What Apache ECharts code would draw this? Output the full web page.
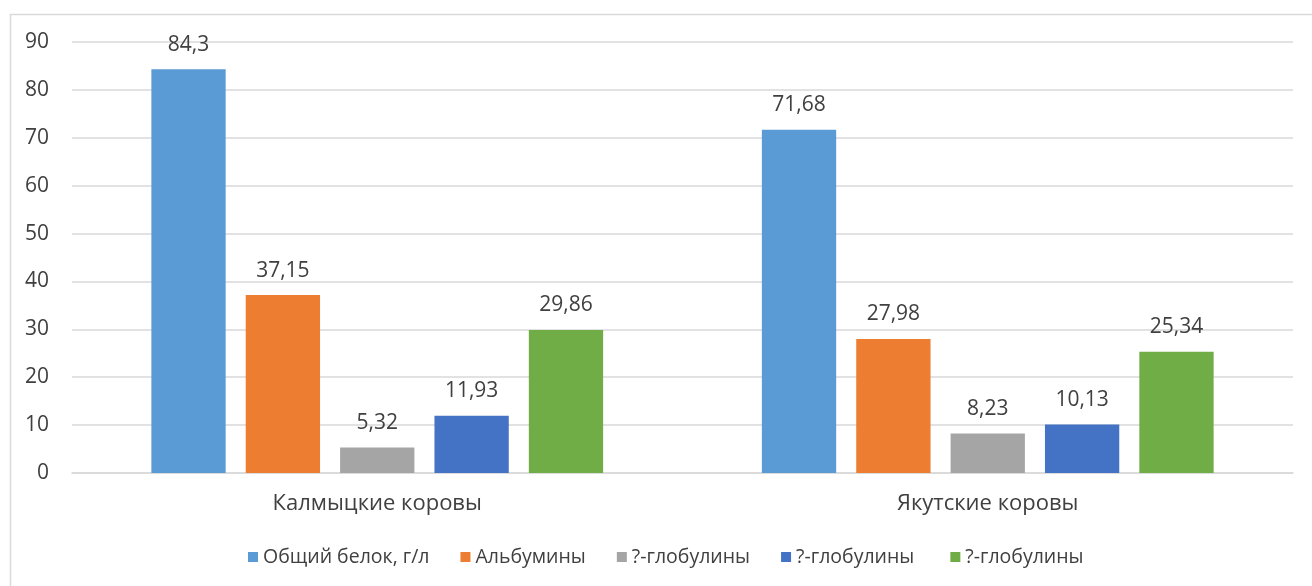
<!DOCTYPE html>
<html>
<head>
<meta charset="utf-8">
<script src="https://cdn.jsdelivr.net/npm/echarts@6/dist/echarts.min.js"></script>
<style>
  html, body { margin: 0; padding: 0; background: #fff; }
  #chart { width: 1312px; height: 586px; }
</style>
</head>
<body>
<div id="chart"></div>
<script>
// Categories and series values
const categories = ['Калмыцкие коровы', 'Якутские коровы'];
const seriesNames = ['Общий белок, г/л', 'Альбумины', '?-глобулины', '?-глобулины ', '?-глобулины  '];
const totalProtein = [84.3, 71.68];
const albumins = [37.15, 27.98];
const globulinsA = [5.32, 8.23];
const globulinsB = [11.93, 10.13];
const globulinsC = [29.86, 25.34];
const yTicks = { min: 0, max: 90, interval: 10 };

const colors = ['#5B9BD5', '#ED7D31', '#A5A5A5', '#4472C4', '#70AD47'];
const values = [totalProtein, albumins, globulinsA, globulinsB, globulinsC];
const font = 'Open Sans';

const chart = echarts.init(document.getElementById('chart'));
chart.setOption({
  animation: false,
  color: colors,
  textStyle: { fontFamily: font },
  graphic: [{
    type: 'rect',
    shape: { x: 10.5, y: 14.5, width: 1310, height: 580 },
    style: { fill: 'none', stroke: '#d9d9d9', lineWidth: 1.5 },
    silent: true
  }],
  grid: { left: 72, right: 19, top: 42, bottom: 113 },
  legend: {
    top: 542,
    left: 243,
    itemWidth: 10,
    itemHeight: 10,
    itemGap: 31,
    icon: 'rect',
    textStyle: { fontSize: 19.5, color: '#404040', fontFamily: font },
    data: seriesNames
  },
  xAxis: {
    type: 'category',
    data: categories,
    axisTick: { show: false },
    axisLine: { lineStyle: { color: '#d9d9d9', width: 1.5 } },
    axisLabel: { fontSize: 22, color: '#404040', margin: 20, fontFamily: font }
  },
  yAxis: {
    type: 'value',
    min: yTicks.min,
    max: yTicks.max,
    interval: yTicks.interval,
    axisLine: { show: false },
    axisTick: { show: false },
    splitLine: { lineStyle: { color: '#d9d9d9', width: 1.5 } },
    axisLabel: { fontSize: 21, color: '#404040', margin: 23, fontFamily: font }
  },
  series: seriesNames.map((name, i) => ({
    name: name,
    type: 'bar',
    data: values[i],
    barGap: '27%',
    barCategoryGap: '26%',
    itemStyle: { color: colors[i] },
    label: {
      show: true,
      position: 'top',
      distance: 14,
      fontSize: 21,
      color: '#404040',
      fontFamily: font,
      formatter: p => String(p.value).replace('.', ',')
    }
  }))
});
</script>
</body>
</html>
